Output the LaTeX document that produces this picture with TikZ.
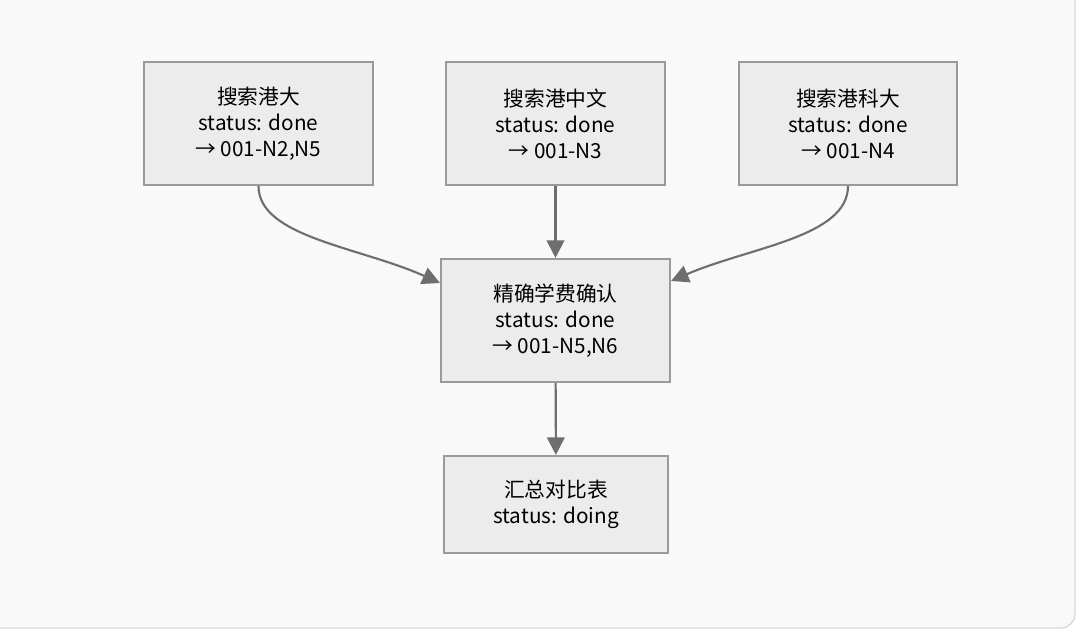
\documentclass[tikz,border=0pt]{standalone}
\usepackage{fontspec}
\setmainfont{Noto Sans CJK SC}
\usetikzlibrary{arrows.meta}
\definecolor{boxfill}{HTML}{ECECEC}
\definecolor{boxline}{HTML}{9A9A9A}
\definecolor{linkgray}{HTML}{6E6E6E}
\begin{document}
\begin{tikzpicture}[>={Triangle[length=5pt,width=5pt]},
  task/.style={draw=boxline, fill=boxfill, line width=0.6pt, align=center, inner sep=0pt,
    font=\fontsize{5.9}{7.4}\selectfont},
  link/.style={->, draw=linkgray, line width=0.6pt}]

\useasboundingbox (0,0) rectangle (10.8,6.32);
% background panel
\draw[fill=gray!5, draw=gray!30, rounded corners=4pt] (-0.2,0.04) rectangle (10.75,6.6);

% tasks
\node[task, minimum width=2.29cm, minimum height=1.23cm] (hku) at (2.585,5.085) {搜索港大\\status: done\\→ 001-N2,N5};
\node[task, minimum width=2.19cm, minimum height=1.23cm] (cuhk) at (5.555,5.085) {搜索港中文\\status: done\\→ 001-N3};
\node[task, minimum width=2.18cm, minimum height=1.23cm] (hkust) at (8.48,5.085) {搜索港科大\\status: done\\→ 001-N4};
\node[task, minimum width=2.29cm, minimum height=1.23cm] (fee) at (5.555,3.115) {精确学费确认\\status: done\\→ 001-N5,N6};
\node[task, minimum width=2.24cm, minimum height=0.97cm] (table) at (5.56,1.275) {汇总对比表\\status: doing};

% links
\draw[link] (hku.south) .. controls (2.585,3.95) and (3.6,3.85) .. (fee.west |- 0,3.49);
\draw[link] (cuhk) -- (fee);
\draw[link] (hkust.south) .. controls (8.48,3.95) and (7.5,3.85) .. (fee.east |- 0,3.51);
\draw[link] (fee) -- (table);

\end{tikzpicture}
\end{document}
